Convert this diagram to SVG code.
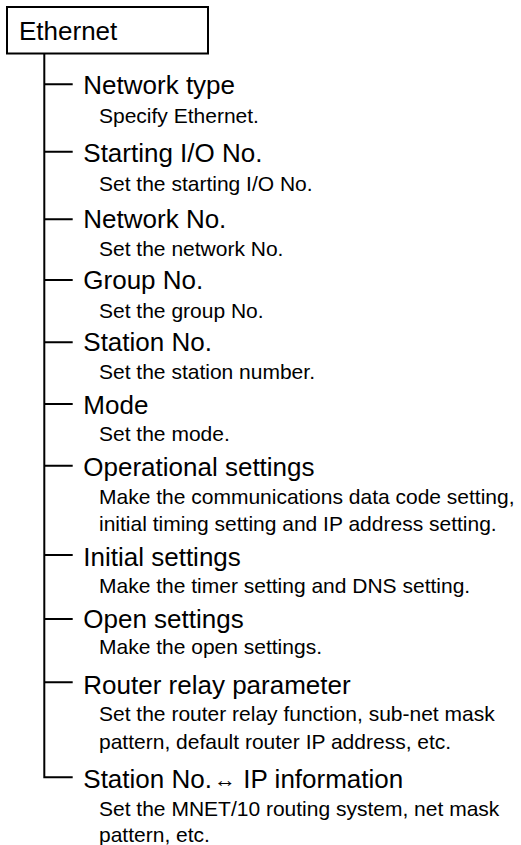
<svg xmlns="http://www.w3.org/2000/svg" width="521" height="845" viewBox="0 0 521 845">
<style>
.t{font-family:"Liberation Sans","DejaVu Sans",Arial,sans-serif;font-size:26px;fill:#000}
.s{font-family:"Liberation Sans","DejaVu Sans",Arial,sans-serif;font-size:21px;fill:#000}
.ln{stroke:#000;stroke-width:2;fill:none}
</style>
<rect width="521" height="845" fill="#fff"/>
<g id="root">
<rect class="ln" x="7" y="7" width="201" height="46.5" fill="#fff"/>
<text class="t" x="19" y="40">Ethernet</text>
</g>
<g id="connectors">
<path class="ln" d="M44.3 53.5 V777.3 H72.7"/>
<path class="ln" d="M44.3 84.3 H72.7 M44.3 151.7 H72.7 M44.3 219.3 H72.7 M44.3 280 H72.7 M44.3 342.3 H72.7 M44.3 404 H72.7 M44.3 465.7 H72.7 M44.3 555 H72.7 M44.3 619 H72.7 M44.3 682.3 H72.7"/>
</g>
<g id="n1"><text class="t" x="83.3" y="94.3">Network type</text><text class="s" x="99" y="122.7">Specify Ethernet.</text></g>
<g id="n2"><text class="t" x="83.3" y="161.7">Starting I/O No.</text><text class="s" x="99" y="190.7">Set the starting I/O No.</text></g>
<g id="n3"><text class="t" x="83.3" y="228">Network No.</text><text class="s" x="99" y="256">Set the network No.</text></g>
<g id="n4"><text class="t" x="83.3" y="289.3">Group No.</text><text class="s" x="99" y="318.3">Set the group No.</text></g>
<g id="n5"><text class="t" x="83.3" y="351">Station No.</text><text class="s" x="99" y="379">Set the station number.</text></g>
<g id="n6"><text class="t" x="83.3" y="414">Mode</text><text class="s" x="99" y="441">Set the mode.</text></g>
<g id="n7"><text class="t" x="83.3" y="475.7">Operational settings</text><text class="s" x="99" y="504.3">Make the communications data code setting,</text><text class="s" x="99" y="531">initial timing setting and IP address setting.</text></g>
<g id="n8"><text class="t" x="83.3" y="566">Initial settings</text><text class="s" x="99" y="592.7">Make the timer setting and DNS setting.</text></g>
<g id="n9"><text class="t" x="83.3" y="628.3">Open settings</text><text class="s" x="99" y="654.3">Make the open settings.</text></g>
<g id="n10"><text class="t" x="83.3" y="694">Router relay parameter</text><text class="s" x="99" y="721">Set the router relay function, sub-net mask</text><text class="s" x="99" y="749">pattern, default router IP address, etc.</text></g>
<g id="n11"><text class="t" x="83.3" y="788.3">Station No.<tspan x="214" y="787" style="font-size:22px" textLength="22" lengthAdjust="spacingAndGlyphs">↔</tspan><tspan x="243.3" y="788.3">IP information</tspan></text><text class="s" x="99" y="815.7">Set the MNET/10 routing system, net mask</text><text class="s" x="99" y="842.3">pattern, etc.</text></g>
</svg>
